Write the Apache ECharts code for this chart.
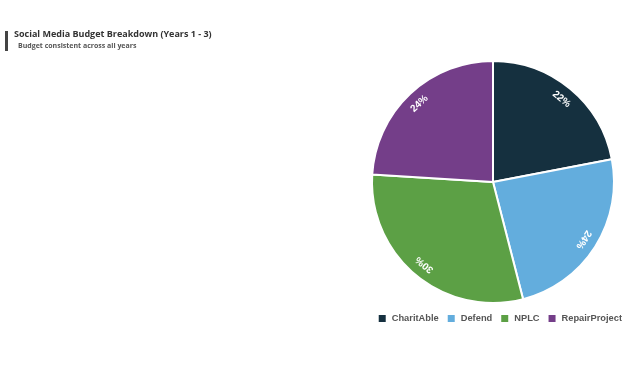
<!DOCTYPE html>
<html><head><meta charset="utf-8">
<script src="https://cdn.jsdelivr.net/npm/echarts@6/dist/echarts.min.js"></script>
<style>html,body{margin:0;padding:0;background:#fff}#c{width:643px;height:388px}</style>
</head><body><div id="c"></div>
<script>
var categories = ['CharitAble', 'Defend', 'NPLC', 'RepairProject'];
var values = [22, 24, 30, 24];
var colors = ['#15303f', '#63addd', '#5ca045', '#743e89'];
var titleText = 'Social Media Budget Breakdown (Years 1 - 3)';
var subtitleText = 'Budget consistent across all years';

var total = values.reduce(function(a,b){return a+b;},0);
var cum = 0;
var ringData = [], pieData = [];
for (var i = 0; i < values.length; i++) {
  var mid = (cum + values[i]/2) / total * 360;
  cum += values[i];
  pieData.push({name: categories[i], value: values[i], itemStyle: {color: colors[i]}});
  ringData.push({name: categories[i], value: values[i],
    label: {rotate: -mid}});
}
var chart = echarts.init(document.getElementById('c'));
chart.setOption({
  animation: false,
  graphic: [{type: 'rect', left: 5, top: 31, shape: {width: 3, height: 20}, style: {fill: '#444'}}],
  title: [
    {text: titleText, left: 14, top: 30, padding: 0,
     textStyle: {fontFamily: 'Open Sans', fontWeight: 'bold', fontSize: 9, color: '#333'}},
    {text: subtitleText, left: 18, top: 42, padding: 0,
     textStyle: {fontFamily: 'Open Sans', fontWeight: 'bold', fontSize: 7, color: '#555'}}
  ],
  legend: {data: categories, right: 21, top: 313, itemWidth: 9, itemHeight: 9, itemGap: 7,
    icon: 'rect', padding: 0,
    textStyle: {fontFamily: 'Liberation Sans', fontWeight: 'bold', fontSize: 9.3, color: '#555'}},
  series: [
    {type: 'pie', center: [493, 182], radius: [0, 121], startAngle: 90, clockwise: true,
     label: {show: false}, labelLine: {show: false},
     itemStyle: {borderColor: '#fff', borderWidth: 2}, data: pieData, silent: true},
    {type: 'pie', center: [493, 182], radius: [88, 121], startAngle: 90, clockwise: true,
     itemStyle: {color: 'transparent'}, silent: true, legendHoverLink: false,
     label: {show: true, position: 'inside', formatter: '{d}%', color: '#fff',
       fontFamily: 'Liberation Sans', fontWeight: 'bold', fontSize: 10},
     labelLine: {show: false}, data: ringData}
  ]
});
</script></body></html>
